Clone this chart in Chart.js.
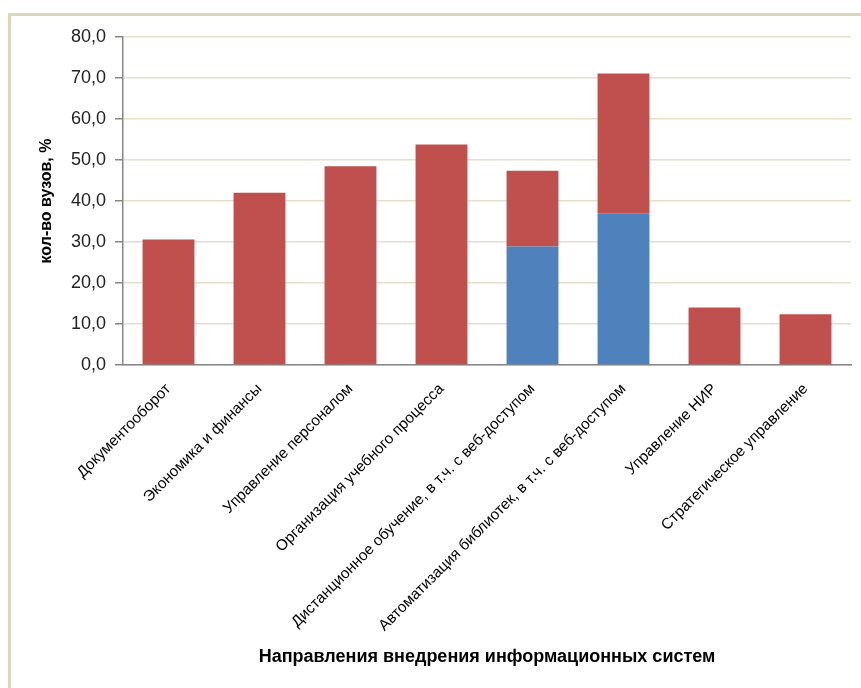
<!DOCTYPE html>
<html>
<head>
<meta charset="utf-8">
<script src="https://cdn.jsdelivr.net/npm/chart.js@4"></script>
<style>
  body { margin: 0; background: #fff; }
  #frame {
    position: absolute; left: 8px; top: 13px; right: 0; bottom: 0;
    border-left: 3px solid #d9d7c0; border-top: 3px solid #d9d7c0;
  }
  #wrap { position: absolute; left: 0; top: 0; width: 861px; height: 688px; }
</style>
</head>
<body>
<div id="frame"></div>
<div id="wrap"><canvas id="grafico"></canvas></div>
<script>
// направления внедрения
const napravleniya = [
  "Документооборот",
  "Экономика и финансы",
  "Управление персоналом",
  "Организация учебного процесса",
  "Дистанционное обучение, в т.ч. с веб-доступом",
  "Автоматизация библиотек, в т.ч. с веб-доступом",
  "Управление НИР",
  "Стратегическое управление",
];

// доля с веб-доступом (синий, снизу)
const veb_dostup = [0, 0, 0, 0, 28.9, 37.0, 0, 0];
// остальное (красный, сверху)
const vsego_ostalnoe = [30.6, 42.0, 48.5, 53.8, 18.5, 34.1, 14.0, 12.4];

const y_ticks = [0, 10, 20, 30, 40, 50, 60, 70, 80];

const ctx = document.getElementById("grafico");

const Grafico = new Chart(ctx, {
  type: "bar",
  data: {
    labels: napravleniya,
    datasets: [
      {
        label: "с веб-доступом",
        data: veb_dostup,
        backgroundColor: "#4F81BD",
        borderWidth: 0,
        barPercentage: 0.57,
        categoryPercentage: 1,
      },
      {
        label: "всего",
        data: vsego_ostalnoe,
        backgroundColor: "#C0504D",
        borderWidth: 0,
        barPercentage: 0.57,
        categoryPercentage: 1,
      },
    ],
  },
  options: {
    responsive: true,
    maintainAspectRatio: false,
    animation: false,
    layout: { padding: { left: 37, top: 37, right: 10, bottom: 20 } },
    plugins: {
      legend: { display: false },
      tooltip: { enabled: false },
    },
    scales: {
      x: {
        stacked: true,
        grid: { display: false, drawTicks: false },
        border: { color: "#868686", width: 1.5 },
        ticks: {
          color: "#000",
          font: { family: "Liberation Sans", size: 15.3 },
          maxRotation: 45,
          minRotation: 45,
          autoSkip: false,
          padding: 15,
        },
        title: {
          display: true,
          text: "Направления внедрения информационных систем",
          color: "#000",
          font: { family: "Liberation Sans", size: 18, weight: "bold" },
          padding: 0,
        },
        afterFit: (scale) => { scale.height = 303; },
      },
      y: {
        stacked: true,
        min: 0,
        max: 80,
        afterBuildTicks: (scale) => { scale.ticks = y_ticks.map((v) => ({ value: v })); },
        grid: { color: "#e3e0cc", lineWidth: 1.5, tickColor: "#868686", tickLength: 8 },
        border: { color: "#868686", width: 1.5 },
        ticks: {
          color: "#222",
          font: { family: "Liberation Sans", size: 18 },
          padding: 9,
          callback: (v) => v.toFixed(1).replace(".", ","),
        },
        title: {
          display: true,
          text: "кол-во вузов, %",
          color: "#000",
          font: { family: "Liberation Sans", size: 16, weight: "bold" },
          padding: 0,
        },
        afterFit: (scale) => { scale.width = 86; },
      },
    },
  },
});
</script>
</body>
</html>
